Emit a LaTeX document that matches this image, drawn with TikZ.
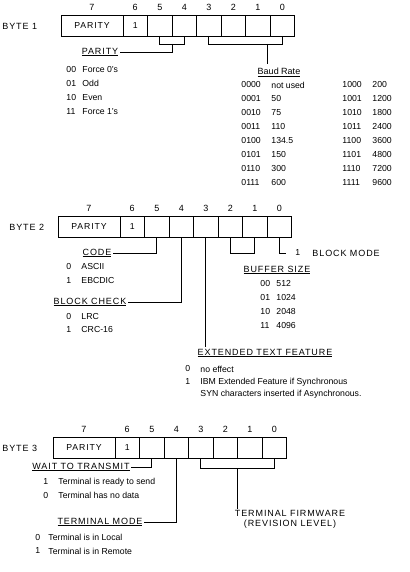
\documentclass[tikz,border=0pt]{standalone}
\usepackage{fontspec}
\setmainfont{Liberation Sans}
\newfontfamily\capsfont[LetterSpace=10]{Liberation Sans}
\usetikzlibrary{positioning,calc}

\begin{document}
\begin{tikzpicture}[x=1pt,y=-1pt,font=\fontsize{8.7}{10}\selectfont,line width=0.9pt,
  cell/.style={draw,minimum width=24.5pt,minimum height=21pt,inner sep=0pt,outer sep=0pt},
  pcell/.style={cell,minimum width=62pt,font=\capsfont\fontsize{8.7}{10}\selectfont},
  bitno/.style={inner sep=0pt,font=\fontsize{9}{10}\selectfont},
  lbl/.style={font=\capsfont\fontsize{9}{10}\selectfont,inner sep=1pt},
  txt/.style={anchor=west,inner sep=0pt}]
\useasboundingbox (0,0) rectangle (409,572);

% byte 1
\node[lbl,anchor=west] (byte1) at (1,26) {BYTE 1};
\node[pcell,anchor=north west] (b1c7) at (61,15) {PARITY};
\node[cell,right=0pt of b1c7] (b1c6) {1};
\foreach \i/\j in {5/6,4/5,3/4,2/3,1/2,0/1}
  \node[cell,right=0pt of b1c\j] (b1c\i) {};
\foreach \i in {7,...,0}
  \node[bitno,above=4pt of b1c\i] (b1n\i) {\i};

\node[lbl] (par1) at (100,52) {\underline{PARITY}};
\draw (b1c5.south) -- ++(0,8) -| (b1c4.south);
\draw ($(b1c5.south)!0.5!(b1c4.south)+(0,8)$) |- (par1.east);
\foreach \c/\t [count=\k from 0] in {00/Force 0's,01/Odd,10/Even,11/Force 1's}{
  \node[txt] (pc\k) at (66,70+13.7*\k) {\c};
  \node[txt] (pt\k) at (82,70+13.7*\k) {\t};}

\node (baud) at (279,72) {\fontsize{9}{10}\selectfont\underline{Baud Rate}};
\draw (b1c3.south) -- ++(0,8) -| (b1c0.south);
\coordinate (baudstem) at ($(b1c1.south)!0.4!(b1c0.south)+(0,8)$);
\draw (baudstem) -- (baudstem |- baud.north);
\foreach \c/\v [count=\k from 0] in {0000/not used,0001/50,0010/75,0011/110,0100/134.5,0101/150,0110/300,0111/600}{
  \node[txt] (bc\k) at (241,85+14*\k) {\c};
  \node[txt] (bv\k) at (271,85+14*\k) {\v};}
\foreach \c/\v [count=\k from 0] in {1000/200,1001/1200,1010/1800,1011/2400,1100/3600,1101/4800,1110/7200,1111/9600}{
  \node[txt] (bd\k) at (342,85+14*\k) {\c};
  \node[txt] (bw\k) at (372,85+14*\k) {\v};}

% byte 2
\node[lbl,anchor=west] (byte2) at (8,227) {BYTE 2};
\node[pcell,anchor=north west] (b2c7) at (58,216) {PARITY};
\node[cell,right=0pt of b2c7] (b2c6) {1};
\foreach \i/\j in {5/6,4/5,3/4,2/3,1/2,0/1}
  \node[cell,right=0pt of b2c\j] (b2c\i) {};
\foreach \i in {7,...,0}
  \node[bitno,above=4pt of b2c\i] (b2n\i) {\i};

\node[lbl] (code) at (97,253) {\underline{CODE}};
\draw (b2c5.south) |- (code.east);
\node[txt] (cc0) at (66,267) {0}; \node[txt] (ct0) at (81,267) {ASCII};
\node[txt] (cc1) at (66,281) {1}; \node[txt] (ct1) at (81,281) {EBCDIC};

\node[lbl] (bchk) at (90,302) {\underline{BLOCK CHECK}};
\draw (b2c4.south) |- (bchk.east);
\node[txt] (kc0) at (66,317) {0}; \node[txt] (kt0) at (81,317) {LRC};
\node[txt] (kc1) at (66,330) {1}; \node[txt] (kt1) at (81,330) {CRC-16};

\node[lbl] (ext) at (265,353) {\underline{EXTENDED TEXT FEATURE}};
\draw (b2c3.south) -- (b2c3.south |- ext.north);
\node[txt] (ec0) at (185,369) {0}; \node[txt] (et0) at (200,369) {no effect};
\node[txt] (ec1) at (185,382) {1}; \node[txt] (et1) at (200,382) {IBM Extended Feature if Synchronous};
\node[txt] (et2) at (200,394) {SYN characters inserted if Asynchronous.};

\draw (b2c2.south) -- ++(0,16) -| (b2c1.south);
\node[lbl] (buf) at (277,270) {\underline{BUFFER SIZE}};
\foreach \c/\v [count=\k from 0] in {00/512,01/1024,10/2048,11/4096}{
  \node[txt] (fc\k) at (260,284+13.7*\k) {\c};
  \node[txt] (fv\k) at (276,284+13.7*\k) {\v};}

\node[txt] (bm1) at (295,253) {1};
\node[lbl,anchor=west] (bmode) at (311,253) {BLOCK MODE};
\draw (b2c0.south) |- ($(bm1.west)+(-9,0)$);

% byte 3
\node[lbl,anchor=west] (byte3) at (1,448) {BYTE 3};
\node[pcell,anchor=north west] (b3c7) at (53,437) {PARITY};
\node[cell,right=0pt of b3c7] (b3c6) {1};
\foreach \i/\j in {5/6,4/5,3/4,2/3,1/2,0/1}
  \node[cell,right=0pt of b3c\j] (b3c\i) {};
\foreach \i in {7,...,0}
  \node[bitno,above=4pt of b3c\i] (b3n\i) {\i};

\node[lbl] (wait) at (81,467) {\underline{WAIT TO TRANSMIT}};
\draw (b3c5.south) |- (wait.east);
\node[txt] (wc0) at (43,482) {1}; \node[txt] (wt0) at (58,482) {Terminal is ready to send};
\node[txt] (wc1) at (43,495) {0}; \node[txt] (wt1) at (58,495) {Terminal has no data};

\node[lbl] (tmode) at (100,522) {\underline{TERMINAL MODE}};
\draw (b3c4.south) |- (tmode.east);
\node[txt] (mc0) at (35,537) {0}; \node[txt] (mt0) at (48,537) {Terminal is in Local};
\node[txt] (mc1) at (35,551) {1}; \node[txt] (mt1) at (48,551) {Terminal is in Remote};

\draw (b3c3.south) -- ++(0,10) -| (b3c0.south);
\node[lbl,align=center] (firm) at (290,519) {TERMINAL FIRMWARE\\(REVISION LEVEL)};
\coordinate (firmstem) at ($(b3c3.south)!0.5!(b3c0.south)+(0,10)$);
\draw (firmstem) -- (firmstem |- firm.north);
\end{tikzpicture}
\end{document}
